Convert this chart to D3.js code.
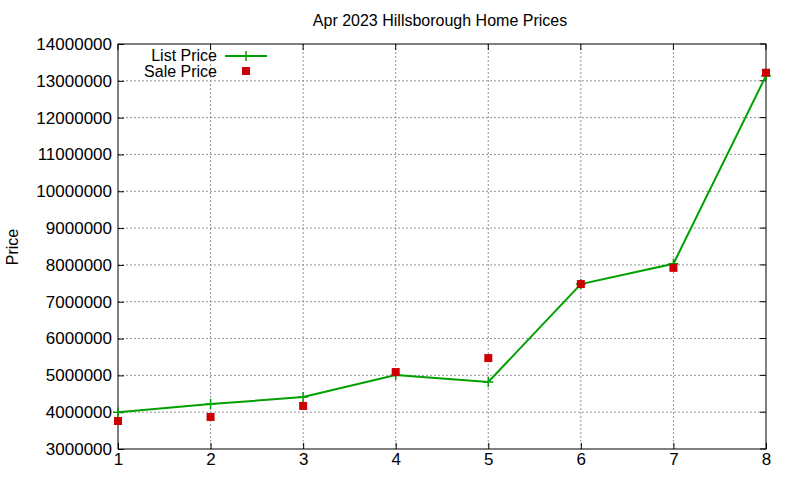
<!DOCTYPE html>
<html><head><meta charset="utf-8">
<script src="https://cdn.jsdelivr.net/npm/d3@7"></script>
<style>body{margin:0;background:#fff}text{font-family:"Liberation Sans",Arial,sans-serif}</style>
</head><body><svg id="c" width="800" height="480"></svg>
<script>
const categories=[1,2,3,4,5,6,7,8];
const listPrice=[4000000,4220000,4410000,5010000,4820000,7480000,8030000,13140000];
const salePrice=[3760000,3870000,4170000,5090000,5470000,7480000,7920000,13220000];
const yTicks=[3000000,4000000,5000000,6000000,7000000,8000000,9000000,10000000,11000000,12000000,13000000,14000000];
const svg=d3.select("#c");
const L=118,R=766,T=44,B=449;
const x=d3.scaleLinear().domain([1,8]).range([L,R]);
const y=d3.scaleLinear().domain([3000000,14000000]).range([B,T]);
const g=svg.append("g");
g.selectAll(".gx").data(categories.slice(1,-1)).enter().append("line").attr("x1",d=>x(d)).attr("x2",d=>x(d)).attr("y1",T).attr("y2",B).attr("stroke","#888").attr("stroke-dasharray","2,2").attr("stroke-width",0.9);
g.selectAll(".gy").data(yTicks.slice(1,-1)).enter().append("line").attr("x1",L).attr("x2",R).attr("y1",d=>y(d)).attr("y2",d=>y(d)).attr("stroke","#888").attr("stroke-dasharray","2,2").attr("stroke-width",0.9);
g.append("rect").attr("x",L).attr("y",T).attr("width",R-L).attr("height",B-T).attr("fill","none").attr("stroke","#000");
const ya=svg.append("g").attr("transform",`translate(${L},0)`).call(d3.axisLeft(y).tickValues(yTicks).tickFormat(d3.format("d")).tickSize(-6).tickPadding(6));
const xa=svg.append("g").attr("transform",`translate(0,${B})`).call(d3.axisBottom(x).tickValues(categories).tickFormat(d3.format("d")).tickSize(-6).tickPadding(4));
[ya,xa].forEach(a=>{a.select(".domain").remove();a.selectAll("text").attr("font-size",17).attr("fill","#000").style("font-family","Liberation Sans, Arial");});
svg.selectAll(".rt").data(yTicks).enter().append("line").attr("x1",R).attr("x2",R-6).attr("y1",d=>y(d)).attr("y2",d=>y(d)).attr("stroke","#000");
svg.selectAll(".tt").data(categories).enter().append("line").attr("x1",d=>x(d)).attr("x2",d=>x(d)).attr("y1",T).attr("y2",T+6).attr("stroke","#000");
const line=d3.line().x((d,i)=>x(categories[i])).y(d=>y(d));
svg.append("path").datum(listPrice).attr("d",line).attr("fill","none").attr("stroke","#00a000").attr("stroke-width",2);
const plus=(s,cx,cy)=>s.append("path").attr("d",`M${cx-5},${cy}H${cx+5}M${cx},${cy-5}V${cy+5}`).attr("stroke","#00a000").attr("stroke-width",1.5);
listPrice.forEach((d,i)=>plus(svg,x(categories[i]),y(d)));
svg.selectAll(".sq").data(salePrice).enter().append("rect").attr("x",(d,i)=>x(categories[i])-4).attr("y",d=>y(d)-4).attr("width",8).attr("height",8).attr("fill","#cc0000");
svg.append("text").attr("x",217).attr("y",61).attr("text-anchor","end").attr("font-size",16).text("List Price");
svg.append("line").attr("x1",225).attr("x2",267).attr("y1",56).attr("y2",56).attr("stroke","#00a000").attr("stroke-width",2);
plus(svg,246,56);
svg.append("text").attr("x",217).attr("y",77).attr("text-anchor","end").attr("font-size",16).text("Sale Price");
svg.append("rect").attr("x",242).attr("y",67).attr("width",8).attr("height",8).attr("fill","#cc0000");
svg.append("text").attr("x",440).attr("y",26).attr("text-anchor","middle").attr("font-size",16).text("Apr 2023 Hillsborough Home Prices");
svg.append("text").attr("transform","translate(18,247) rotate(-90)").attr("text-anchor","middle").attr("font-size",16).text("Price");
</script></body></html>
